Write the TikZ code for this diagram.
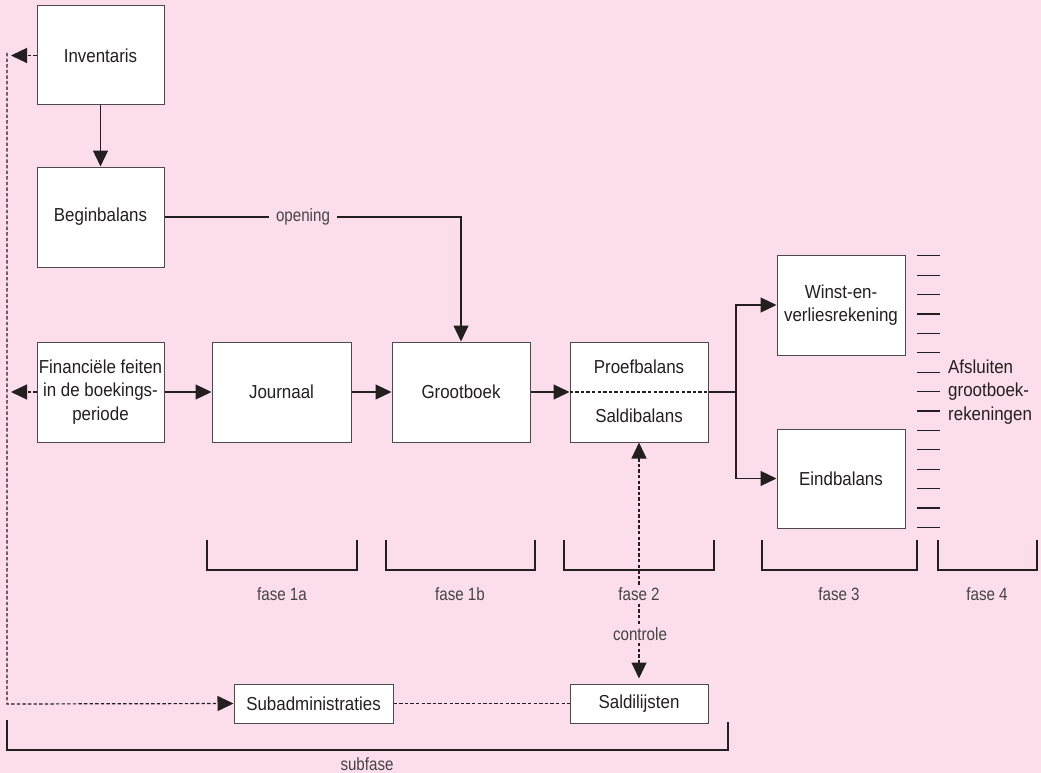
\documentclass[tikz,border=0pt]{standalone}
\usepackage{fontspec}
\setmainfont{Liberation Sans}[FakeStretch=0.9]
\newfontfamily\labelfont{Liberation Sans}[FakeStretch=0.85]
\usetikzlibrary{arrows.meta}
\definecolor{bgpink}{HTML}{FCDDEB}
\definecolor{ink}{HTML}{231F20}
\definecolor{boxline}{HTML}{4A4A4A}
\definecolor{labelink}{HTML}{444444}
\begin{document}
\begin{tikzpicture}[x=1pt,y=-1pt,
  boxtext/.style={text=ink, font=\fontsize{18.8}{23.5}\selectfont, align=center},
  box/.style={boxtext, draw=boxline, line width=1pt, fill=white, inner sep=0pt,
    minimum width=#1, minimum height=100pt},
  box/.default=127pt,
  plain/.style={boxtext, inner sep=0pt},
  lbl/.style={text=labelink, font=\labelfont\fontsize{17.8}{21}\selectfont, fill=bgpink, inner sep=2pt},
  conn/.style={draw=ink, line width=1.2pt},
  arr/.style={conn, -{Triangle[length=16pt,width=15pt]}},
  dsh/.style={dash pattern=on 3.4pt off 2.2pt},
  brk/.style={draw=ink, line width=1.2pt}
]
\useasboundingbox (0,0) rectangle (1041,773);
\fill[bgpink] (0,0) rectangle (1041,773);

% boxes
\node[box, minimum height=99pt] (inv) at (100.5,55.5) {Inventaris};
\node[box] (beg) at (100.5,217) {Beginbalans};
\node[box] (fin) at (100.5,392) {Financiële feiten\\in de boekings-\\periode};
\node[box=139pt] (jou) at (281.5,392) {Journaal};
\node[box=138pt] (gro) at (461,392) {Grootboek};
\node[box=138pt] (pro) at (639,392) {};
\node[plain] (prot) at (639,367) {Proefbalans};
\node[plain] (prob) at (639,416) {Saldibalans};
\node[box=128pt] (win) at (841,305) {Winst-en-\\verliesrekening};
\node[box=128pt, minimum height=99pt] (eind) at (841,478.5) {Eindbalans};
\node[box=159pt, minimum height=39pt] (sub) at (313.5,703.5) {Subadministraties};
\node[box=138pt, minimum height=39pt] (sal) at (639,703.5) {Saldilijsten};

% solid connectors
\draw[arr] (inv) -- (beg);
\node[lbl, inner xsep=7pt] (open) at (303,217) {opening};
\draw[conn] (beg.east) -- (beg.east -| open.west);
\draw[arr] (beg.east -| open.east) -- (beg.east -| gro.north) -- (gro.north);
\draw[arr] (fin) -- (jou);
\draw[arr] (jou) -- (gro);
\draw[arr] (gro.east) -- (pro.west);
\draw[conn, dsh] (pro.west) -- (pro.east);
\coordinate (split) at (736,392);
\draw[conn] (pro.east) -- (split);
\draw[arr] (split) |- (win.west);
\draw[arr] (split) |- (eind.west);

% dashed connectors on the left
\coordinate (ltop) at (7,53);
\coordinate (lbot) at (7,704);
\coordinate (invtip) at (11,55.5);
\coordinate (fintip) at (11,392);
\draw[arr, dsh] (inv.west) -- (invtip);
\draw[arr, dsh] (fin.west) -- (fintip);
\draw[arr, dsh] (ltop) -- (lbot) -- (sub.west);
\draw[conn, dsh] (sub.east) -- (sal.west);

% controle
\draw[conn, dsh, {Triangle[length=16pt,width=15pt]}-{Triangle[length=16pt,width=15pt]}, shorten >=5pt] (pro.south) -- (sal.north);

% brackets
\draw[brk] (207,540) |- (357,570) -- (357,540);
\draw[brk] (386,540) |- (535,570) -- (535,540);
\draw[brk] (564,540) |- (714,570) -- (714,540);
\draw[brk] (762,540) |- (917,570) -- (917,540);
\draw[brk] (938,540) |- (1037,570) -- (1037,540);
\draw[brk] (7,720) |- (728,750) -- (728,722);

% labels
\node[lbl] (f1a) at (282,594) {fase 1a};
\node[lbl] (f1b) at (460,594) {fase 1b};
\node[lbl] (f2) at (639,594) {fase 2};
\node[lbl] (f3) at (839,594) {fase 3};
\node[lbl] (f4) at (987,594) {fase 4};
\node[lbl] (ctl) at (640,634) {controle};
\node[lbl, fill=none, inner sep=0pt] (subf) at (367,764) {subfase};

% afsluiten ticks
\foreach \i in {0,...,14}
  \draw[conn] ({917},{255.7+19.4*\i}) -- ({940},{255.7+19.4*\i});
\node[plain, anchor=west, align=left] (afs) at (948,392) {Afsluiten\\grootboek-\\rekeningen};
\end{tikzpicture}
\end{document}
